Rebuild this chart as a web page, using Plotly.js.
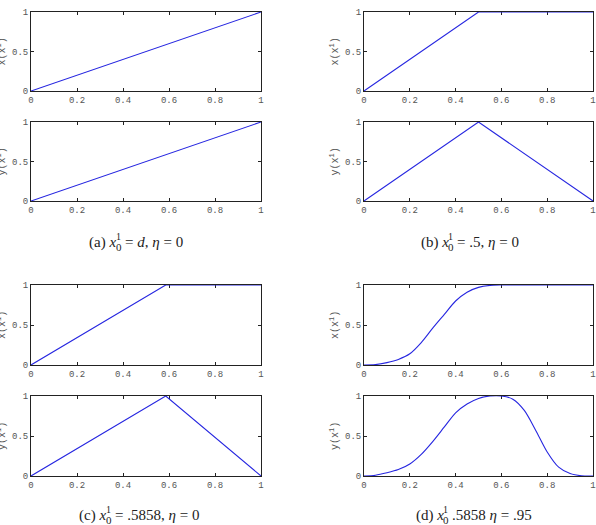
<!DOCTYPE html>
<html>
<head>
<meta charset="utf-8">
<script src="https://cdn.plot.ly/plotly-3.0.1.min.js"></script>
<style>
  html, body { margin: 0; padding: 0; background: #fff; }
  #chart { width: 596px; height: 525px; }
</style>
</head>
<body>
<div id="chart"></div>
<script>
// (a) x0 = d, eta = 0
const aX = [0, 1];
const aXval = [0, 1];
const aYval = [0, 1];

// (b) x0 = .5, eta = 0
const bX = [0, 0.5, 1];
const bXval = [0, 1, 1];
const bYval = [0, 1, 0];

// (c) x0 = .5858, eta = 0
const cX = [0, 0.5858, 1];
const cXval = [0, 1, 1];
const cYval = [0, 1, 0];

// (d) x0 = .5858, eta = .95
const dXgrid = [0, 0.05, 0.1, 0.15, 0.2, 0.25, 0.3, 0.35, 0.4, 0.45, 0.5, 0.55, 0.6, 0.7, 0.8, 0.9, 1];
const dXval  = [0, 0.005, 0.03, 0.07, 0.14, 0.28, 0.46, 0.63, 0.8, 0.91, 0.97, 0.995, 1, 1, 1, 1, 1];
const dYgrid = [0, 0.05, 0.1, 0.15, 0.2, 0.25, 0.3, 0.35, 0.4, 0.45, 0.5, 0.55, 0.6, 0.65, 0.7, 0.75, 0.8, 0.85, 0.9, 0.95, 1];
const dYval  = [0, 0.01, 0.04, 0.08, 0.15, 0.27, 0.43, 0.61, 0.79, 0.9, 0.97, 1, 1, 0.96, 0.82, 0.57, 0.3, 0.11, 0.03, 0.003, 0];

// tick labels
const xTickVals = [0, 0.2, 0.4, 0.6, 0.8, 1];
const xTickText = ['0', '0.2', '0.4', '0.6', '0.8', '1'];
const yTickVals = [0, 0.5, 1];
const yTickText = ['0', '0.5', '1'];

const W = 596, H = 525;
const px = v => v / W;
const py = v => 1 - v / H;

const lineStyle = { color: '#2626e0', width: 1.1 };
const series = [
  [aX, aXval], [aX, aYval],
  [bX, bXval], [bX, bYval],
  [cX, cXval], [cX, cYval],
  [dXgrid, dXval], [dYgrid, dYval]
];

const traces = series.map((s, i) => ({
  x: s[0], y: s[1], type: 'scatter', mode: 'lines',
  line: Object.assign({}, lineStyle, i >= 6 ? { shape: 'spline', smoothing: 0.8 } : {}),
  xaxis: 'x' + (i + 1), yaxis: 'y' + (i + 1),
  cliponaxis: false, hoverinfo: 'skip', showlegend: false
}));

// panel frames in pixels: [left, right] and [top, bottom]
const cols = [[31, 261], [364, 593]];
const rows = [[12, 91], [122, 201], [285, 365], [396, 476]];
const panels = [
  [0, 0], [0, 1], [1, 0], [1, 1],
  [0, 2], [0, 3], [1, 2], [1, 3]
];

const MONO = "'Liberation Mono', 'DejaVu Sans Mono', monospace";
const SERIF = "'Times New Roman', 'Liberation Serif', serif";
const tickFont = { family: MONO, size: 9, color: '#555' };
const layout = {
  width: W, height: H,
  margin: { l: 0, r: 0, t: 0, b: 0 },
  paper_bgcolor: '#fff', plot_bgcolor: '#fff',
  showlegend: false,
  annotations: []
};

panels.forEach((p, i) => {
  const c = cols[p[0]], r = rows[p[1]];
  const n = i + 1;
  const common = {
    showgrid: false, zeroline: false, showline: true, linecolor: '#222', linewidth: 1,
    mirror: 'ticks', ticks: 'inside', ticklen: 3, tickcolor: '#222', tickwidth: 1,
    tickfont: tickFont, fixedrange: true, layer: 'below traces'
  };
  layout['xaxis' + n] = Object.assign({}, common, {
    domain: [px(c[0]), px(c[1])], range: [0, 1], anchor: 'y' + n,
    tickvals: xTickVals, ticktext: xTickText, ticklabelstandoff: 0
  });
  layout['yaxis' + n] = Object.assign({}, common, {
    domain: [py(r[1]), py(r[0])], range: [0, 1], anchor: 'x' + n,
    tickvals: yTickVals, ticktext: yTickText, ticklabelstandoff: 0
  });
  // rotated axis label
  layout.annotations.push({
    xref: 'paper', yref: 'paper',
    x: px(c[0] - 30), y: py((r[0] + r[1]) / 2),
    text: (i % 2 === 0 ? 'x' : 'y') + '(x<sup>1</sup>)',
    textangle: -90, showarrow: false, xanchor: 'center', yanchor: 'middle',
    font: { family: MONO, size: 10, color: '#555' }
  });
});

// sub-figure captions: [prefix left, prefix, script centre, rest left, rest text, baseline]
const capFont = { family: SERIF, size: 15, color: '#222' };
const captions = [
  [87, '(a) <i>x</i>', 118.5, 123, '= <i>d</i>, <i>η</i> = 0', 247],
  [419, '(b) <i>x</i>', 450.5, 455, '= .5, <i>η</i> = 0', 247],
  [77, '(c) <i>x</i>', 108.5, 113, '= .5858, <i>η</i> = 0', 520],
  [414, '(d) <i>x</i>', 445.5, 450, '.5858 <i>η</i> = .95', 520]
];
captions.forEach(cp => {
  const base = cp[5];
  layout.annotations.push({
    xref: 'paper', yref: 'paper', x: px(cp[0]), y: py(base - 5),
    text: cp[1], showarrow: false, xanchor: 'left', yanchor: 'middle', font: capFont
  });
  layout.annotations.push({
    xref: 'paper', yref: 'paper', x: px(cp[2]), y: py(base - 11),
    text: '1', showarrow: false, xanchor: 'center', yanchor: 'middle',
    font: Object.assign({}, capFont, { size: 10 })
  });
  layout.annotations.push({
    xref: 'paper', yref: 'paper', x: px(cp[2]), y: py(base),
    text: '0', showarrow: false, xanchor: 'center', yanchor: 'middle',
    font: Object.assign({}, capFont, { size: 11 })
  });
  layout.annotations.push({
    xref: 'paper', yref: 'paper', x: px(cp[3]), y: py(base - 5),
    text: cp[4], showarrow: false, xanchor: 'left', yanchor: 'middle', font: capFont
  });
});

Plotly.newPlot('chart', traces, layout, { staticPlot: true, displayModeBar: false });
</script>
</body>
</html>
